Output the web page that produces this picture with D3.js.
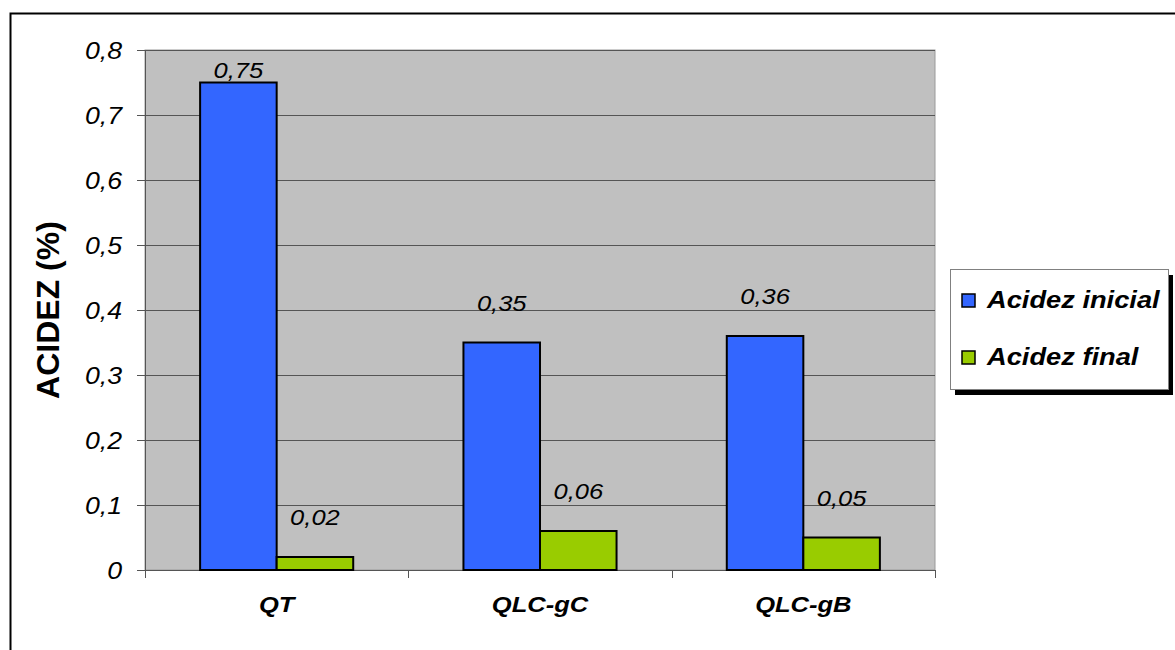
<!DOCTYPE html>
<html>
<head>
<meta charset="utf-8">
<script src="https://cdn.jsdelivr.net/npm/d3@7"></script>
<style>
  html, body { margin: 0; padding: 0; background: #fff; }
  svg { display: block; font-family: "Liberation Sans", Arial, sans-serif; }
</style>
</head>
<body>
<svg id="chart" width="1175" height="650"></svg>
<script>
// Sample groups and measured acidity (%)
const categories = ["QT", "QLC-gC", "QLC-gB"];
const seriesNames = ["Acidez inicial", "Acidez final"];
const acidezInicial = [0.75, 0.35, 0.36];
const acidezFinal = [0.02, 0.06, 0.05];
const yTicks = [0, 0.1, 0.2, 0.3, 0.4, 0.5, 0.6, 0.7, 0.8];
const colors = ["#3366FF", "#99CC00"];

const series = [acidezInicial, acidezFinal];
const fmt = v => String(v).replace(".", ",");
const SX = 1.16; // glyphs are drawn slightly wide

const svg = d3.select("#chart");
const plot = { left: 145, right: 935, top: 50, bottom: 570 };

// Place a text at (x, y) with horizontally widened glyphs
function place(sel, fx, fy) {
  sel.attr("x", 0).attr("y", 0)
    .attr("transform", (d, i) => `translate(${fx(d, i)},${fy(d, i)}) scale(${SX},1)`);
  return sel;
}

// Outer chart frame (runs off the page on the right and bottom)
svg.append("rect")
  .attr("x", 10.5).attr("y", 13.5)
  .attr("width", 1200).attr("height", 700)
  .attr("fill", "none").attr("stroke", "#000").attr("stroke-width", 2);

const y = d3.scaleLinear().domain([0, 0.8]).range([plot.bottom, plot.top]);
const x0 = d3.scaleBand().domain(categories).range([plot.left, plot.right]).paddingInner(0).paddingOuter(0);
const x1 = d3.scaleBand().domain(d3.range(series.length)).range([0, x0.bandwidth()]).paddingOuter(0.72).paddingInner(0);

// Plot background
svg.append("rect")
  .attr("x", plot.left).attr("y", plot.top)
  .attr("width", plot.right - plot.left).attr("height", plot.bottom - plot.top)
  .attr("fill", "#C0C0C0").attr("stroke", "#9a9a9a").attr("stroke-width", 1);

// Horizontal gridlines
svg.append("g").selectAll("line")
  .data(yTicks.filter(t => t > 0))
  .join("line")
  .attr("x1", plot.left).attr("x2", plot.right)
  .attr("y1", d => Math.round(y(d)) + 0.5).attr("y2", d => Math.round(y(d)) + 0.5)
  .attr("stroke", "#555").attr("stroke-width", 1);

// Y axis
const yAxis = d3.axisLeft(y).tickValues(yTicks).tickSize(8).tickPadding(15)
  .tickFormat(d => fmt(+d.toFixed(1)));
const gy = svg.append("g").attr("transform", `translate(${plot.left},0)`).call(yAxis);
gy.select(".domain").attr("stroke", "#555");
gy.selectAll(".tick line").attr("stroke", "#555");
place(gy.selectAll(".tick text"), () => -23, () => 8)
  .attr("dy", null)
  .attr("font-size", 23).attr("font-style", "italic").attr("fill", "#000");

// X axis
const gx = svg.append("g").attr("transform", `translate(0,${plot.bottom})`);
gx.append("line")
  .attr("x1", plot.left).attr("x2", plot.right)
  .attr("y1", 0.5).attr("y2", 0.5).attr("stroke", "#555");
const catEdges = categories.map(c => x0(c)).concat([plot.right]);
gx.selectAll(".edge").data(catEdges).join("line")
  .attr("class", "edge")
  .attr("x1", d => Math.round(d) + 0.5).attr("x2", d => Math.round(d) + 0.5)
  .attr("y1", 0).attr("y2", 8).attr("stroke", "#555");
place(gx.selectAll("text").data(categories).join("text"),
    d => x0(d) + x0.bandwidth() / 2, () => 42)
  .attr("text-anchor", "middle")
  .attr("font-size", 22).attr("font-weight", "bold").attr("font-style", "italic")
  .text(d => d);

// Bars
const groups = svg.append("g").selectAll("g")
  .data(categories)
  .join("g")
  .attr("transform", d => `translate(${x0(d)},0)`);

groups.selectAll("rect")
  .data((c, i) => series.map((s, k) => ({ k, v: s[i] })))
  .join("rect")
  .attr("x", d => x1(d.k))
  .attr("y", d => y(d.v))
  .attr("width", x1.bandwidth())
  .attr("height", d => y(0) - y(d.v))
  .attr("fill", d => colors[d.k])
  .attr("stroke", "#000").attr("stroke-width", 2);

// Value labels
place(groups.selectAll("text")
    .data((c, i) => series.map((s, k) => ({ k, v: s[i] })))
    .join("text"),
    d => x1(d.k) + x1.bandwidth() / 2,
    d => Math.max(y(d.v) - 32, plot.top + 28))
  .attr("text-anchor", "middle")
  .attr("font-size", 22).attr("font-style", "italic")
  .text(d => fmt(d.v));

// Legend
const lg = svg.append("g").attr("transform", "translate(950,269)");
lg.append("rect").attr("x", 5).attr("y", 6).attr("width", 218).attr("height", 120).attr("fill", "#000");
lg.append("rect").attr("x", 0.5).attr("y", 0.5).attr("width", 218).attr("height", 120)
  .attr("fill", "#fff").attr("stroke", "#808080").attr("stroke-width", 1);
const items = lg.selectAll(".item").data(seriesNames).join("g")
  .attr("class", "item")
  .attr("transform", (d, i) => `translate(0,${31 + i * 57})`);
items.append("rect")
  .attr("x", 12).attr("y", -6).attr("width", 13).attr("height", 13)
  .attr("fill", (d, i) => colors[i]).attr("stroke", "#000").attr("stroke-width", 1.5);
place(items.append("text"), () => 37, () => 8)
  .attr("font-size", 23.5).attr("font-weight", "bold").attr("font-style", "italic")
  .text(d => d);

// Y axis title
svg.append("text")
  .attr("transform", `translate(59,${(plot.top + plot.bottom) / 2}) rotate(-90)`)
  .attr("text-anchor", "middle")
  .attr("font-size", 32).attr("font-weight", "bold")
  .text("ACIDEZ (%)");
</script>
</body>
</html>
